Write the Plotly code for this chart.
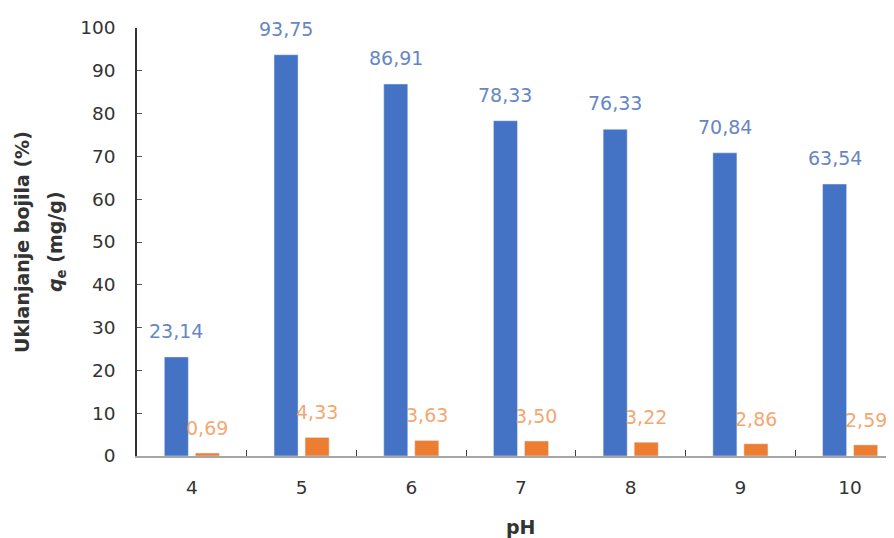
import plotly.graph_objects as go

ph = ["4", "5", "6", "7", "8", "9", "10"]
removal = [23.14, 93.75, 86.91, 78.33, 76.33, 70.84, 63.54]
qe = [0.69, 4.33, 3.63, 3.50, 3.22, 2.86, 2.59]

BLUE = "#4472C4"
ORANGE = "#ED7D31"
FONT = "DejaVu Sans"
TXT = "#333333"

fig = go.Figure()
fig.add_trace(go.Bar(x=ph, y=removal, marker_color=BLUE, name="Uklanjanje"))
fig.add_trace(go.Bar(x=ph, y=qe, marker_color=ORANGE, name="qe"))

def fmt(v):
    return f"{v:.2f}".replace(".", ",")

ann = []
for i, v in enumerate(removal):
    ann.append(dict(x=i, y=v, xref="x", yref="y", text=fmt(v), showarrow=False,
                    xshift=-15.5, yshift=26, yanchor="middle", xanchor="center",
                    font=dict(family=FONT, size=19, color="#6686C6")))
for i, v in enumerate(qe):
    ann.append(dict(x=i, y=v, xref="x", yref="y", text=fmt(v), showarrow=False,
                    xshift=15.5, yshift=25, yanchor="middle", xanchor="center",
                    font=dict(family=FONT, size=19, color="#F3A872")))

# axis titles
ann.append(dict(x=0, y=0.5, xref="paper", yref="paper", text="<b>Uklanjanje bojila (%)</b>",
                textangle=-90, showarrow=False, xanchor="center", yanchor="middle", xshift=-115,
                font=dict(family=FONT, size=19, color=TXT)))
ann.append(dict(x=0, y=0.5, xref="paper", yref="paper", text="<b><i>q</i><sub>e</sub> (mg/g)</b>",
                textangle=-90, showarrow=False, xanchor="center", yanchor="middle", xshift=-81,
                font=dict(family=FONT, size=19, color=TXT)))
ann.append(dict(x=3, y=0, xref="x", yref="paper", text="<b>pH</b>", showarrow=False,
                xanchor="center", yanchor="middle", yshift=-71,
                font=dict(family=FONT, size=19, color=TXT)))

fig.update_layout(
    width=894, height=538,
    margin=dict(l=129, r=8, t=20, b=90),
    paper_bgcolor="white", plot_bgcolor="white",
    barmode="group", bargap=0.434, bargroupgap=0.226,
    showlegend=False,
    annotations=ann,
    font=dict(family=FONT, size=18.5, color=TXT),
)
fig.update_xaxes(
    type="category", range=[-0.5, 6.4],
    showline=True, linecolor="#A6A6A6", linewidth=2,
    ticks="inside", tickson="boundaries", ticklen=6, tickcolor="#404040", tickwidth=1,
    ticklabelstandoff=14,
    tickfont=dict(family=FONT, size=18.5, color=TXT),
    showgrid=False,
)
fig.update_yaxes(
    range=[0, 100], dtick=10,
    showline=True, linecolor="#333333", linewidth=1.5,
    ticks="inside", ticklen=5, tickcolor="#555555", tickwidth=1,
    ticklabelstandoff=16,
    tickfont=dict(family=FONT, size=18.5, color=TXT),
    showgrid=False, zeroline=False,
)

fig.write_html("out.html")
